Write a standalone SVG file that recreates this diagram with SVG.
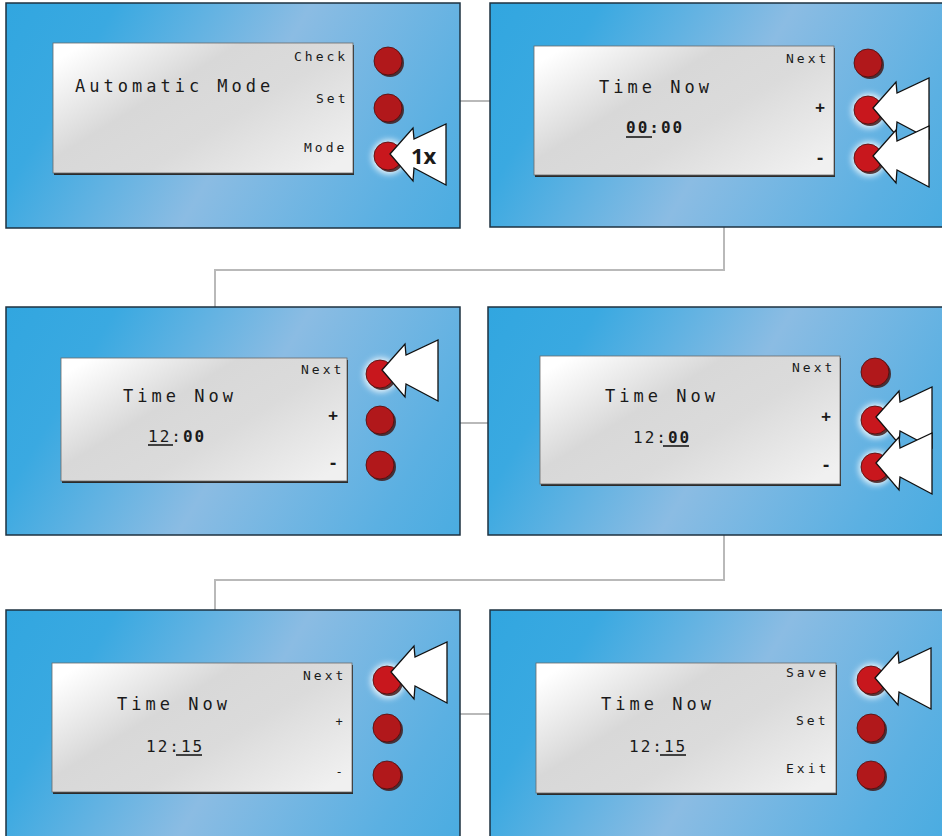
<svg xmlns="http://www.w3.org/2000/svg" xmlns:xlink="http://www.w3.org/1999/xlink" width="942" height="836" viewBox="0 0 942 836">
<style>
.panel{stroke:#1e3240;stroke-width:1.5}
.lcd{fill:url(#lg);stroke:#6a6a6a;stroke-width:0.8}
.lsh{fill:#2b2b2b}
.big{font-family:"DejaVu Sans Mono","Liberation Mono",monospace;font-size:17px;letter-spacing:4px;fill:#1a1a1a}
.lab{font-family:"DejaVu Sans Mono","Liberation Mono",monospace;font-size:13px;letter-spacing:3px;fill:#1a1a1a}
.dig{font-family:"DejaVu Sans Mono","Liberation Mono",monospace;font-size:16px;letter-spacing:2px;fill:#1a1a1a}
.b{font-weight:bold}
.sym{font-family:"DejaVu Sans Mono","Liberation Mono",monospace;font-size:16px;font-weight:bold;fill:#1a1a1a;text-anchor:middle}
.ul{stroke:#1a1a1a;stroke-width:1.6}
.btn{fill:#b1181b;stroke:#4a0c0c;stroke-width:0.8}
.on{fill:#c8171d}
.bsh{fill:#3e1a1a;opacity:0.85}
.glow{fill:#ffffff;opacity:0.9;filter:url(#bl)}
.arr{fill:#ffffff;stroke:#111;stroke-width:1.3;stroke-linejoin:miter}
.con{fill:none;stroke:#b9b9b9;stroke-width:2}
.x1{font-family:"Open Sans","Liberation Sans",sans-serif;font-weight:bold;font-size:22px;fill:#1a1a1a}
</style>
<defs>
<linearGradient id="pg" gradientUnits="userSpaceOnUse" x1="-18" y1="-41" x2="498" y2="265">
<stop offset="0" stop-color="#2ea5df"/>
<stop offset="0.22" stop-color="#3aa9e1"/>
<stop offset="0.5" stop-color="#8bbce3"/>
<stop offset="0.78" stop-color="#5bb0e2"/>
<stop offset="1" stop-color="#3da9e0"/>
</linearGradient>
<linearGradient id="lg" x1="0" y1="0.15" x2="1" y2="0.85">
<stop offset="0" stop-color="#ffffff"/>
<stop offset="0.35" stop-color="#d8d8d8"/>
<stop offset="0.6" stop-color="#dbdbdb"/>
<stop offset="1" stop-color="#f0f0f0"/>
</linearGradient>
<filter id="bl" x="-50%" y="-50%" width="200%" height="200%"><feGaussianBlur stdDeviation="3"/></filter>
<path id="arr" class="arr" d="M0,0 L23,-26 L24,-15 L56,-30 L56,31 L24,14 L23,27 Z"/>
</defs>

<g id="connectors">
<line class="con" x1="460" y1="101" x2="490" y2="101"/>
<polyline class="con" points="724,227 724,270 215,270 215,307"/>
<line class="con" x1="460" y1="423" x2="488" y2="423"/>
<polyline class="con" points="724,535 724,580 215,580 215,610"/>
<line class="con" x1="460" y1="714" x2="490" y2="714"/>
</g>

<g id="panel1">
<rect class="panel" transform="translate(6,3)" width="454" height="225" fill="url(#pg)"/>
<rect class="lsh" x="54" y="45" width="300" height="130"/>
<rect class="lcd" x="53" y="43" width="300" height="130"/>
<text class="big" x="75" y="92">Automatic Mode</text>
<text class="lab" x="294" y="61">Check</text>
<text class="lab" x="316" y="103">Set</text>
<text class="lab" x="304" y="152">Mode</text>
<circle class="bsh" cx="390" cy="63" r="14"/><circle class="btn" cx="388" cy="61" r="14"/>
<circle class="bsh" cx="390" cy="110" r="14"/><circle class="btn" cx="388" cy="108" r="14"/>
<circle class="glow" cx="389" cy="157" r="17"/>
<circle class="bsh" cx="390" cy="158" r="14"/><circle class="btn on" cx="388" cy="156" r="14"/>
<use href="#arr" x="390" y="154"/>
<text class="x1" x="411" y="164">1x</text>
</g>

<g id="panel2">
<rect class="panel" transform="translate(490,3)" width="460" height="224" fill="url(#pg)"/>
<rect class="lsh" x="535" y="48" width="300" height="129"/>
<rect class="lcd" x="534" y="46" width="300" height="129"/>
<text class="lab" x="786" y="63">Next</text>
<text class="big" x="599" y="93">Time Now</text>
<text class="dig b" x="626" y="133">00:00</text>
<line class="ul" x1="626" y1="137" x2="652" y2="137"/>
<text class="sym" x="820" y="113">+</text>
<text class="sym" x="820" y="163">-</text>
<circle class="bsh" cx="870" cy="65" r="14"/><circle class="btn" cx="868" cy="63" r="14"/>
<circle class="glow" cx="869" cy="111" r="17"/>
<circle class="bsh" cx="870" cy="112" r="14"/><circle class="btn on" cx="868" cy="110" r="14"/>
<circle class="glow" cx="869" cy="159" r="17"/>
<circle class="bsh" cx="870" cy="160" r="14"/><circle class="btn on" cx="868" cy="158" r="14"/>
<use href="#arr" x="873" y="108"/>
<use href="#arr" x="873" y="156"/>
</g>

<g id="panel3">
<rect class="panel" transform="translate(6,307)" width="454" height="228" fill="url(#pg)"/>
<rect class="lsh" x="62" y="360" width="286" height="123"/>
<rect class="lcd" x="61" y="358" width="286" height="123"/>
<text class="lab" x="301" y="374">Next</text>
<text class="big" x="123" y="402">Time Now</text>
<text class="dig" x="148" y="442">12:<tspan class="b">00</tspan></text>
<line class="ul" x1="148" y1="445" x2="173" y2="445"/>
<text class="sym" x="333" y="421">+</text>
<text class="sym" x="333" y="468">-</text>
<circle class="glow" cx="381" cy="375" r="17"/>
<circle class="bsh" cx="382" cy="376" r="14"/><circle class="btn on" cx="380" cy="374" r="14"/>
<circle class="bsh" cx="382" cy="422" r="14"/><circle class="btn" cx="380" cy="420" r="14"/>
<circle class="bsh" cx="382" cy="467" r="14"/><circle class="btn" cx="380" cy="465" r="14"/>
<use href="#arr" x="382" y="370"/>
</g>

<g id="panel4">
<rect class="panel" transform="translate(488,307)" width="460" height="228" fill="url(#pg)"/>
<rect class="lsh" x="541" y="358" width="300" height="128"/>
<rect class="lcd" x="540" y="356" width="300" height="128"/>
<text class="lab" x="792" y="372">Next</text>
<text class="big" x="605" y="402">Time Now</text>
<text class="dig" x="633" y="443">12:<tspan class="b">00</tspan></text>
<line class="ul" x1="663" y1="446" x2="689" y2="446"/>
<text class="sym" x="826" y="422">+</text>
<text class="sym" x="826" y="470">-</text>
<circle class="bsh" cx="877" cy="374" r="14"/><circle class="btn" cx="875" cy="372" r="14"/>
<circle class="glow" cx="876" cy="421" r="17"/>
<circle class="bsh" cx="877" cy="422" r="14"/><circle class="btn on" cx="875" cy="420" r="14"/>
<circle class="glow" cx="876" cy="468" r="17"/>
<circle class="bsh" cx="877" cy="469" r="14"/><circle class="btn on" cx="875" cy="467" r="14"/>
<use href="#arr" x="876" y="417"/>
<use href="#arr" x="876" y="463"/>
</g>

<g id="panel5">
<rect class="panel" transform="translate(6,610)" width="454" height="240" fill="url(#pg)"/>
<rect class="lsh" x="53" y="665" width="300" height="129"/>
<rect class="lcd" x="52" y="663" width="300" height="129"/>
<text class="lab" x="303" y="680">Next</text>
<text class="big" x="117" y="710">Time Now</text>
<text class="dig" x="146" y="752">12:15</text>
<line class="ul" x1="176" y1="755" x2="202" y2="755"/>
<text class="sym" x="339" y="726" style="font-size:12px;font-weight:normal">+</text>
<text class="sym" x="339" y="776" style="font-size:12px;font-weight:normal">-</text>
<circle class="glow" cx="388" cy="681" r="17"/>
<circle class="bsh" cx="389" cy="682" r="14"/><circle class="btn on" cx="387" cy="680" r="14"/>
<circle class="bsh" cx="389" cy="730" r="14"/><circle class="btn" cx="387" cy="728" r="14"/>
<circle class="bsh" cx="389" cy="777" r="14"/><circle class="btn" cx="387" cy="775" r="14"/>
<use href="#arr" x="391" y="672"/>
</g>

<g id="panel6">
<rect class="panel" transform="translate(490,610)" width="460" height="240" fill="url(#pg)"/>
<rect class="lsh" x="537" y="665" width="300" height="130"/>
<rect class="lcd" x="536" y="663" width="300" height="130"/>
<text class="lab" x="786" y="677">Save</text>
<text class="lab" x="796" y="725">Set</text>
<text class="lab" x="786" y="773">Exit</text>
<text class="big" x="601" y="710">Time Now</text>
<text class="dig" x="629" y="752">12:15</text>
<line class="ul" x1="660" y1="755" x2="686" y2="755"/>
<circle class="glow" cx="872" cy="681" r="17"/>
<circle class="bsh" cx="873" cy="682" r="14"/><circle class="btn on" cx="871" cy="680" r="14"/>
<circle class="bsh" cx="873" cy="730" r="14"/><circle class="btn" cx="871" cy="728" r="14"/>
<circle class="bsh" cx="873" cy="777" r="14"/><circle class="btn" cx="871" cy="775" r="14"/>
<use href="#arr" x="875" y="678"/>
</g>
</svg>
